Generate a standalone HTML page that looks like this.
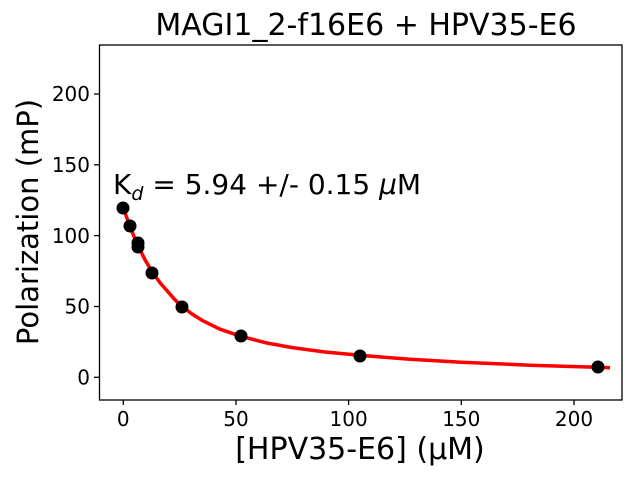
<!DOCTYPE html>
<html><head><style>body{margin:0;background:#fff}svg{display:block}</style></head><body>
<svg width="640" height="480" xmlns="http://www.w3.org/2000/svg" font-family="DejaVu Sans, Liberation Sans, sans-serif">
<rect width="640" height="480" fill="#fff"/>
<text x="366" y="35" font-size="30" text-anchor="middle">MAGI1_2-f16E6 + HPV35-E6</text>
<g stroke="#000" stroke-width="1.3">
<line x1="123.3" y1="400" x2="123.3" y2="405"/><line x1="236" y1="400" x2="236" y2="405"/><line x1="348.6" y1="400" x2="348.6" y2="405"/><line x1="461.3" y1="400" x2="461.3" y2="405"/><line x1="574" y1="400" x2="574" y2="405"/>
<line x1="94" y1="377.3" x2="99.5" y2="377.3"/><line x1="94" y1="306.5" x2="99.5" y2="306.5"/><line x1="94" y1="235.6" x2="99.5" y2="235.6"/><line x1="94" y1="164.8" x2="99.5" y2="164.8"/><line x1="94" y1="94" x2="99.5" y2="94"/>
</g>
<g font-size="20" text-anchor="middle">
<text x="123.3" y="426">0</text><text x="236" y="426">50</text><text x="348.6" y="426">100</text><text x="461.3" y="426">150</text><text x="574" y="426">200</text>
</g>
<g font-size="20" text-anchor="end">
<text x="90" y="384.5">0</text><text x="90" y="313.7">50</text><text x="90" y="242.8">100</text><text x="90" y="172">150</text><text x="90" y="101.2">200</text>
</g>
<text x="360" y="459" font-size="30" text-anchor="middle">[HPV35-E6] (μM)</text>
<text transform="translate(38,222) rotate(-90)" font-size="29" text-anchor="middle">Polarization (mP)</text>
<text x="113" y="194" font-size="28">K<tspan font-size="19" dy="6" font-style="italic">d</tspan><tspan dy="-6"> = 5.94 +/- 0.15 </tspan><tspan font-style="italic">μ</tspan>M</text>
<polyline fill="none" stroke="#f00" stroke-width="3.5" stroke-linejoin="round" points="123.3,207.3 126.7,217.5 130.1,226.6 134,236.5 137.9,245.2 145,259.8 152.6,272.5 160.5,283.3 168.4,292.3 175,299.8 181.9,306.3 192,314 202.2,320.4 220,329.2 240.5,336.2 265,342.6 292.3,347.6 325,352 359.9,355.3 410,359.3 461.3,362.2 530,365.2 596.4,367.3 610,367.8"/>
<g fill="#000">
<circle cx="123" cy="208" r="6.5"/><circle cx="130" cy="226" r="6.5"/><circle cx="138" cy="243" r="6.5"/><circle cx="138" cy="247" r="6.5"/><circle cx="152" cy="273" r="6.5"/><circle cx="182" cy="307" r="6.5"/><circle cx="241" cy="336" r="6.5"/><circle cx="360" cy="356" r="6.5"/><circle cx="598" cy="367" r="6.5"/>
</g>
<rect x="99.5" y="45" width="522.5" height="355" fill="none" stroke="#000" stroke-width="1.3"/>
</svg>
</body></html>
